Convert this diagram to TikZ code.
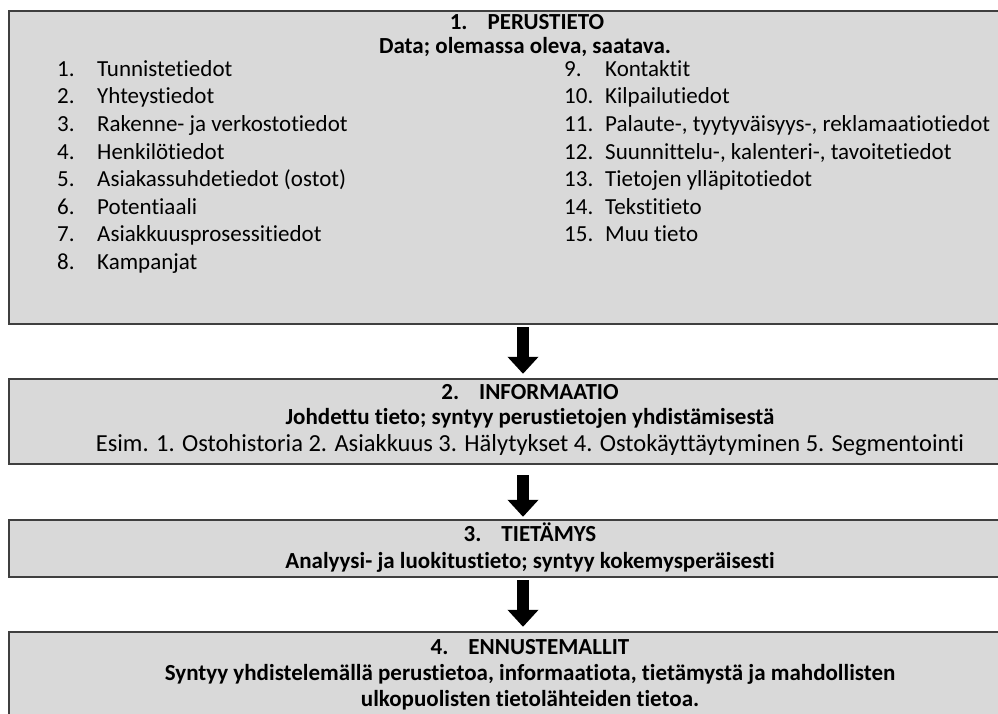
\documentclass[tikz,border=0pt]{standalone}
\usepackage{fontspec}
\setmainfont[Ligatures={NoCommon}]{Carlito}
\usetikzlibrary{arrows.meta}
\definecolor{boxfill}{HTML}{D9D9D9}
\definecolor{boxline}{HTML}{3F3F3F}
\tikzset{
  panel/.style={draw=none, fill=boxfill, rectangle, inner sep=0pt, minimum width=1100pt},
  edge/.style={draw=boxline, line width=1.5pt},
  blockarrow/.style={draw=black, line width=12pt, -{Triangle[width=30pt,length=17pt]}},
  txt/.style={inner sep=0pt, anchor=mid, text=black},
  btxt/.style={txt, font=\fontsize{23}{27}\selectfont\bfseries},
  item/.style={inner sep=0pt, anchor=mid west, text=black},
}
\begin{document}
\begin{tikzpicture}[x=1pt,y=-1pt,font=\fontsize{23}{27}\selectfont]
\useasboundingbox (0,0) rectangle (998,713);
\clip (0,0) rectangle (998,713);
\fill[white] (0,0) rectangle (998,713);
% panels
\node[panel, minimum height=313pt] (box1) at (559,167.5) {};
\node[panel, minimum height=85pt]  (box2) at (559,421.5) {};
\node[panel, minimum height=57pt]  (box3) at (559,548.5) {};
\node[panel, minimum height=108pt] (box4) at (559,686) {};
\foreach \b in {box1,box2,box3,box4}{
  \draw[edge] (\b.north east) -- (\b.north west) -- (\b.south west) -- (\b.south east);
}
% arrows
\coordinate (ax) at (523,0);
\draw[blockarrow, shorten <=3pt, shorten >=5pt] (box1.south -| ax) -- (box2.north -| ax);
\draw[blockarrow, shorten <=11pt, shorten >=3pt] (box2.south -| ax) -- (box3.north -| ax);
\draw[blockarrow, shorten <=3pt, shorten >=5pt] (box3.south -| ax) -- (box4.north -| ax);
% box 1 text
\node[btxt] (t1) at (527,27) {1.\hspace{20pt}PERUSTIETO};
\node[btxt] (s1) at (525,51) {Data; olemassa oleva, saatava.};
\foreach \n/\t [count=\i from 0] in {1/Tunnistetiedot, 2/Yhteystiedot, 3/Rakenne- ja verkostotiedot, 4/Henkilötiedot, 5/Asiakassuhdetiedot (ostot), 6/Potentiaali, 7/Asiakkuusprosessitiedot, 8/Kampanjat}{
  \node[item] (ln\n) at (57,{74+27.6*\i}) {\n.};
  \node[item] (lt\n) at (97,{74+27.6*\i}) {\t};
}
\foreach \n/\t [count=\i from 0] in {9/Kontaktit, 10/Kilpailutiedot, 11/{Palaute-, tyytyväisyys-, reklamaatiotiedot}, 12/{Suunnittelu-, kalenteri-, tavoitetiedot}, 13/Tietojen ylläpitotiedot, 14/Tekstitieto, 15/Muu tieto}{
  \node[item] (rn\n) at (564,{74+27.6*\i}) {\n.};
  \node[item] (rt\n) at (605,{74+27.6*\i}) {\t};
}
% box 2 text
\node[btxt] (t2) at (530,397) {2.\hspace{20pt}INFORMAATIO};
\node[btxt] (s2) at (530,422) {Johdettu tieto; syntyy perustietojen yhdistämisestä};
\node[txt, font=\fontsize{24.5}{28}\selectfont] (e2) at (530,449) {Esim. 1. Ostohistoria 2. Asiakkuus 3. Hälytykset 4. Ostokäyttäytyminen 5. Segmentointi};
% box 3 text
\node[btxt] (t3) at (530,539) {3.\hspace{20pt}TIETÄMYS};
\node[btxt] (s3) at (530,566) {Analyysi- ja luokitustieto; syntyy kokemysperäisesti};
% box 4 text
\node[btxt] (t4) at (530,652) {4.\hspace{20pt}ENNUSTEMALLIT};
\node[btxt] (s4) at (530,678) {Syntyy yhdistelemällä perustietoa, informaatiota, tietämystä ja mahdollisten};
\node[btxt] (s4b) at (530,704) {ulkopuolisten tietolähteiden tietoa.};
\end{tikzpicture}
\end{document}
